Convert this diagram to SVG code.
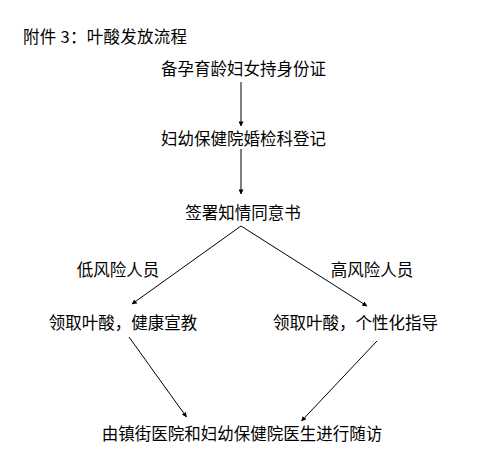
<svg xmlns="http://www.w3.org/2000/svg" width="485" height="463" viewBox="0 0 485 463">
<defs>
<style>
text{font-family:"Microsoft YaHei","Noto Sans CJK SC","Noto Sans",sans-serif;font-size:16.5px;fill:#000;}
.mid{text-anchor:middle;}
.c{stroke:#000;stroke-width:1;fill:none;marker-end:url(#ah);}
</style>
<marker id="ah" viewBox="0 0 6 6" refX="5.5" refY="3" markerWidth="5" markerHeight="5" orient="auto" markerUnits="userSpaceOnUse">
<path d="M0,0 L6,3 L0,6 z" fill="#000"/>
</marker>
</defs>
<rect width="485" height="463" fill="#fff"/>
<text id="title" x="23" y="43" style="font-size:16.5px" textLength="164" lengthAdjust="spacing">附件 3：叶酸发放流程</text>
<g id="n1"><text class="mid" x="243.5" y="75">备孕育龄妇女持身份证</text></g>
<g id="n2"><text class="mid" x="243.5" y="145">妇幼保健院婚检科登记</text></g>
<g id="n3"><text class="mid" x="243" y="219">签署知情同意书</text></g>
<g id="lbl-low"><text class="mid" x="118" y="276">低风险人员</text></g>
<g id="lbl-high"><text class="mid" x="372" y="276">高风险人员</text></g>
<g id="n4"><text class="mid" x="123" y="329">领取叶酸，健康宣教</text></g>
<g id="n5"><text class="mid" x="355.5" y="329">领取叶酸，个性化指导</text></g>
<g id="n6"><text class="mid" x="242" y="440">由镇街医院和妇幼保健院医生进行随访</text></g>
<g id="connectors">
<line class="c" x1="241" y1="82" x2="241" y2="126"/>
<line class="c" x1="241" y1="149" x2="241" y2="194"/>
<line class="c" x1="241" y1="226" x2="132" y2="304"/>
<line class="c" x1="241" y1="226" x2="367" y2="306"/>
<line class="c" x1="129" y1="337" x2="186.5" y2="417"/>
<line class="c" x1="377" y1="341" x2="301.5" y2="421"/>
</g>
</svg>
